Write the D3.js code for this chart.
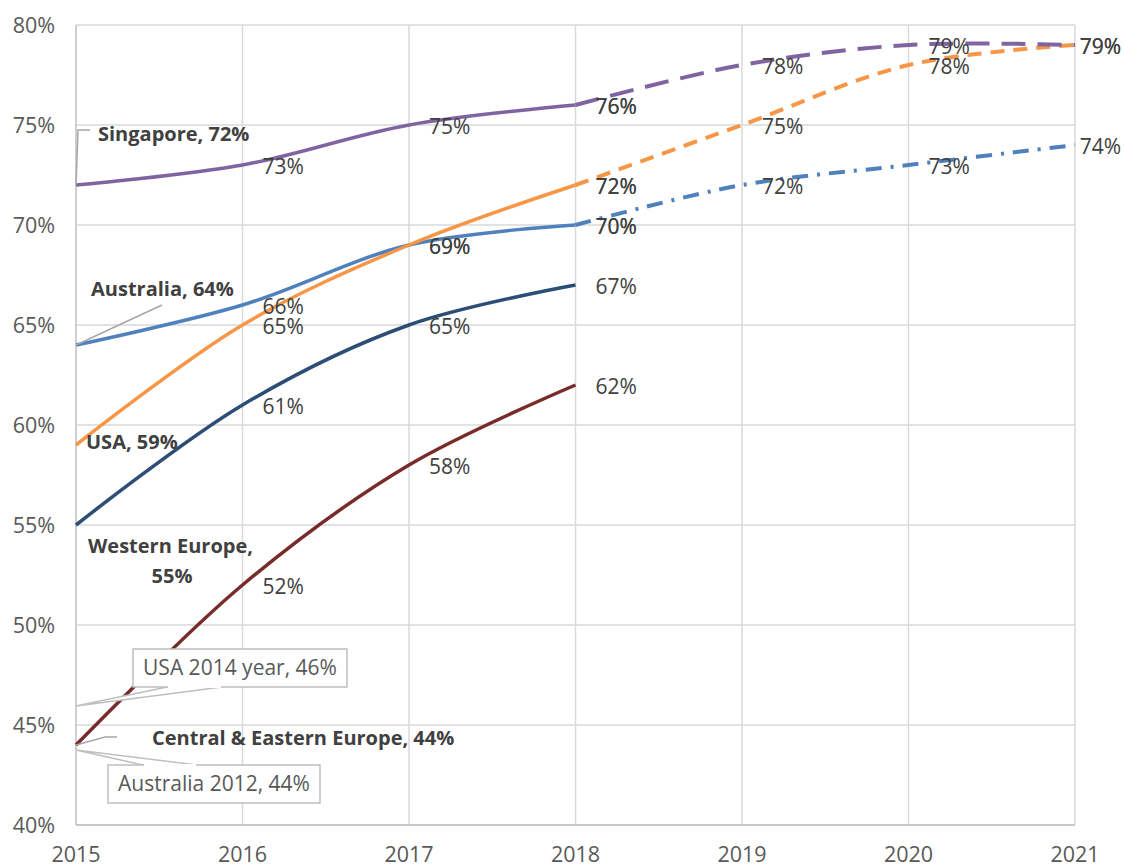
<!DOCTYPE html>
<html lang="en">
<head>
<meta charset="UTF-8">
<script src="https://d3js.org/d3.v7.min.js"></script>
<style>
  body { margin: 0; background: white; }
  text { font-family: "Open Sans", Lato, sans-serif; }
  .tick-label { fill: #595959; font-size: 21.5px; }
  .val { fill: #404040; font-size: 21px; }
  .name { fill: #404040; font-size: 20px; font-weight: bold; }
  .callout { fill: #595959; font-size: 21px; }
</style>
</head>
<body>
<div id="chart"></div>
<script>
// data
const years = [2015, 2016, 2017, 2018];
const forecastYears = [2018, 2019, 2020, 2021];
const xTicks = [2015, 2016, 2017, 2018, 2019, 2020, 2021];
const yTicks = [40, 45, 50, 55, 60, 65, 70, 75, 80];

const singapore = [72, 73, 75, 76];
const singaporeF = [76, 78, 79, 79];
const usa = [59, 65, 69, 72];
const usaF = [72, 75, 78, 79];
const australia = [64, 66, 69, 70];
const australiaF = [70, 72, 73, 74];
const westernEurope = [55, 61, 65, 67];
const ceEurope = [44, 52, 58, 62];

const usa2014 = 46;
const australia2012 = 44;

const W = 1124, H = 867;
const x = d3.scaleLinear().domain([2015, 2021]).range([76, 1075]);
const y = d3.scaleLinear().domain([40, 80]).range([825, 25]);

const svg = d3.select("#chart").append("svg").attr("width", W).attr("height", H);

// grid
svg.append("g").selectAll("line").data(yTicks).join("line")
  .attr("x1", x(2015)).attr("x2", x(2021))
  .attr("y1", d => y(d)).attr("y2", d => y(d))
  .attr("stroke", "#d9d9d9").attr("stroke-width", 1.5);
svg.append("g").selectAll("line").data(xTicks).join("line")
  .attr("x1", d => x(d)).attr("x2", d => x(d))
  .attr("y1", y(40)).attr("y2", y(80))
  .attr("stroke", d => d == 2015 ? "#bfbfbf" : "#d9d9d9").attr("stroke-width", 1.5);
svg.append("line").attr("x1", x(2015)).attr("x2", x(2021)).attr("y1", y(40)).attr("y2", y(40))
  .attr("stroke", "#bfbfbf").attr("stroke-width", 1.5);

// tick labels
svg.append("g").selectAll("text").data(yTicks).join("text")
  .attr("class", "tick-label").attr("x", 55).attr("y", d => y(d)).attr("dy", "0.35em")
  .attr("text-anchor", "end").text(d => d + "%");
svg.append("g").selectAll("text").data(xTicks).join("text")
  .attr("class", "tick-label").attr("x", d => x(d)).attr("y", 862)
  .attr("text-anchor", "middle").text(d => d);

const line = d3.line().x(d => x(d[0])).y(d => y(d[1])).curve(d3.curveCatmullRom.alpha(0.5));

const series = [
  {vals: ceEurope, xs: years, color: "#772c2a", dash: null},
  {vals: westernEurope, xs: years, color: "#2c4d75", dash: null},
  {vals: australia, xs: years, color: "#4f81bd", dash: null},
  {vals: australiaF, xs: forecastYears, color: "#4f81bd", dash: "16 9 3 9"},
  {vals: usa, xs: years, color: "#f79646", dash: null},
  {vals: usaF, xs: forecastYears, color: "#f79646", dash: "14 9"},
  {vals: singapore, xs: years, color: "#8064a2", dash: null},
  {vals: singaporeF, xs: forecastYears, color: "#8064a2", dash: "24 12"}
];

series.forEach(s => {
  const pts = s.xs.map((yr, i) => [yr, s.vals[i]]);
  svg.append("path").datum(pts).attr("d", line)
    .attr("fill", "none").attr("stroke", s.color)
    .attr("stroke-width", s.dash ? 4 : 3.5)
    .attr("stroke-dasharray", s.dash);
});

// value labels (skip 2015 points, they get name labels); last column is pulled in to fit
series.forEach(s => {
  const pts = s.xs.map((yr, i) => [yr, s.vals[i]]).filter(p => p[0] > 2015);
  svg.append("g").selectAll("text").data(pts).join("text")
    .attr("class", "val")
    .attr("x", d => d[0] == 2021 ? W - 3 : x(d[0]) + 20)
    .attr("text-anchor", d => d[0] == 2021 ? "end" : "start")
    .attr("y", d => y(d[1]) + 2)
    .attr("dy", "0.35em").text(d => d[1] + "%");
});

// name labels with leader lines
const lead = (pts) => svg.append("polyline").attr("points", pts.map(p => p.join(",")).join(" "))
  .attr("fill", "none").attr("stroke", "#a6a6a6").attr("stroke-width", 1.5);

const x0 = x(2015);
lead([[x0, y(singapore[0])], [x0 + 2, y(74.75)], [x0 + 14, y(74.75)]]);
svg.append("text").attr("class", "name").attr("x", x0 + 22).attr("y", y(74.55)).attr("dy", "0.35em").text("Singapore, 72%");

lead([[x0, y(australia[0])], [x0 + 86, y(66)]]);
svg.append("text").attr("class", "name").attr("x", x0 + 15).attr("y", y(66.8)).attr("dy", "0.35em").text("Australia, 64%");

svg.append("text").attr("class", "name").attr("x", x0 + 10).attr("y", y(59.15)).attr("dy", "0.35em").text("USA, 59%");

svg.append("text").attr("class", "name").attr("x", x0 + 12).attr("y", y(53.95)).attr("dy", "0.35em").text("Western Europe,");
svg.append("text").attr("class", "name").attr("x", x0 + 96).attr("y", y(52.45)).attr("dy", "0.35em").attr("text-anchor", "middle").text("55%");

lead([[x0, y(ceEurope[0])], [x0 + 29, y(44.4)], [x0 + 41, y(44.4)]]);
svg.append("text").attr("class", "name").attr("x", x0 + 76).attr("y", y(44.35)).attr("dy", "0.35em").text("Central & Eastern Europe, 44%");

// callouts
function callout(px, py, bx, by, bw, bh, w1, w2, label, top) {
  const ey = top ? by : by + bh;
  svg.append("polygon")
    .attr("points", [[px, py], [bx + w1, ey], [bx + w2, ey]].map(p => p.join(",")).join(" "))
    .attr("fill", "white").attr("stroke", "#bfbfbf").attr("stroke-width", 1.5);
  svg.append("rect").attr("x", bx).attr("y", by).attr("width", bw).attr("height", bh)
    .attr("fill", "white").attr("stroke", "#bfbfbf").attr("stroke-width", 1.5);
  svg.append("line").attr("x1", bx + w1 + 1).attr("x2", bx + w2 - 1).attr("y1", ey).attr("y2", ey)
    .attr("stroke", "white").attr("stroke-width", 2);
  svg.append("text").attr("class", "callout").attr("x", bx + bw / 2).attr("y", by + bh / 2)
    .attr("dy", "0.35em").attr("text-anchor", "middle").text(label);
}
callout(x0, y(usa2014) + 1, 133, 649, 214, 38, 34, 89, "USA 2014 year, 46%", false);
callout(x0, y(australia2012) + 5, 108, 765, 212, 38, 35, 89, "Australia 2012, 44%", true);
</script>
</body>
</html>
